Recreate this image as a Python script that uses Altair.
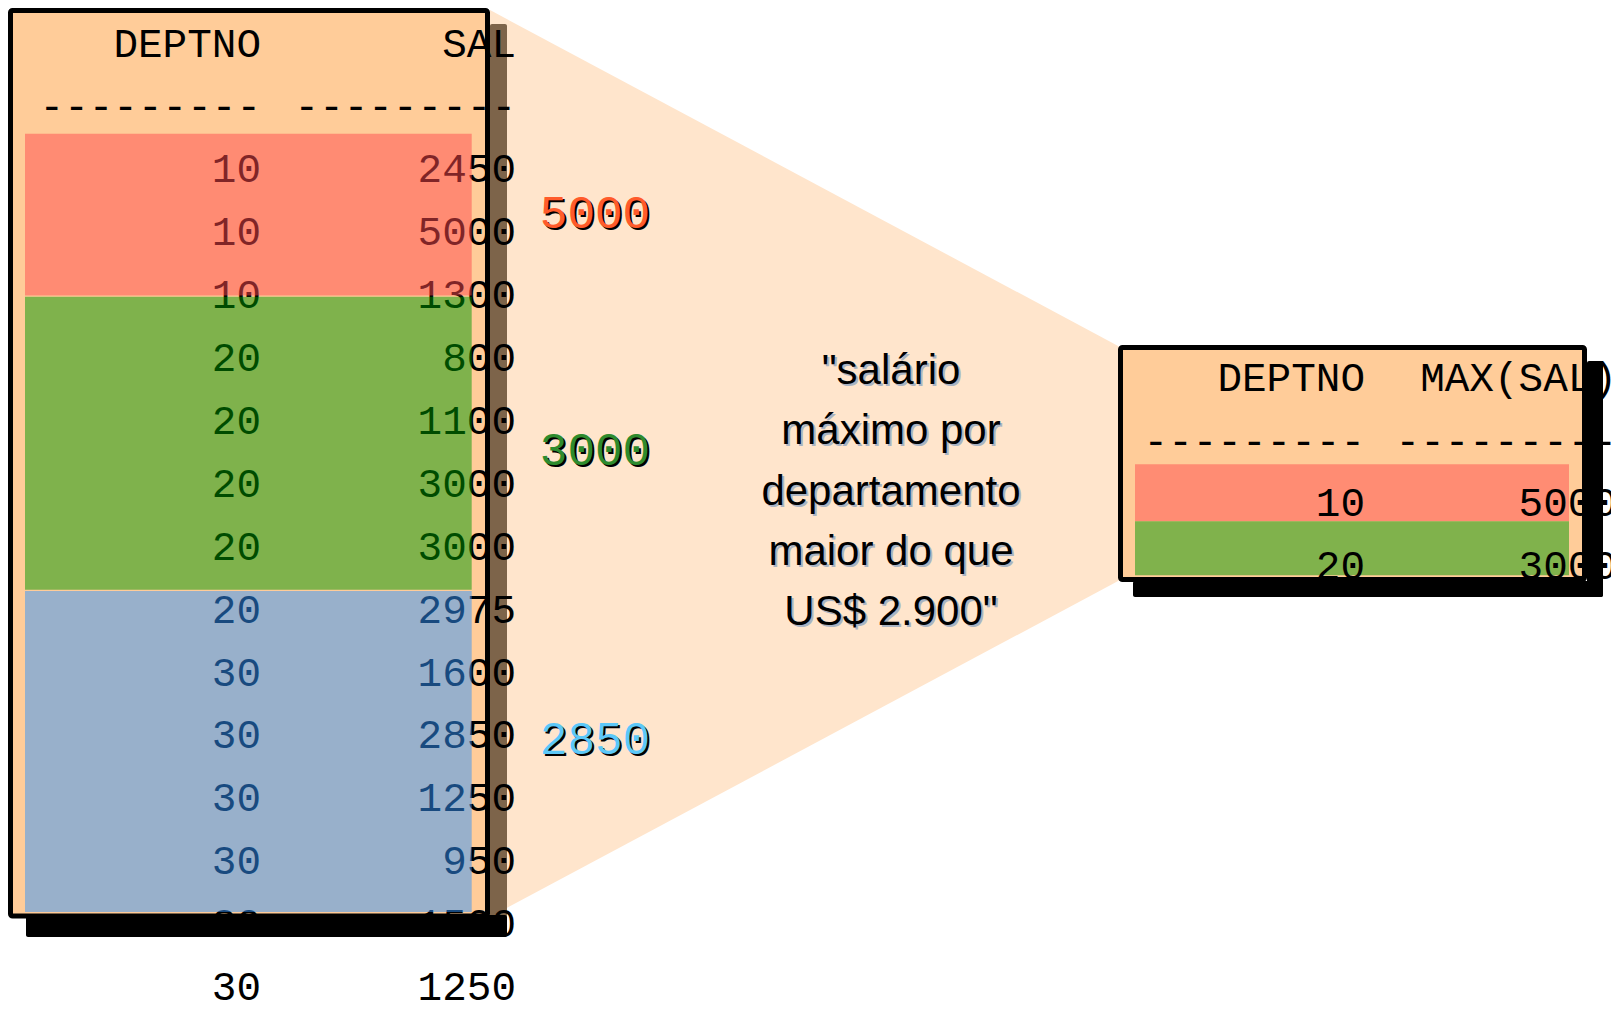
import altair as alt
import pandas as pd

# ---------------- data ----------------
EMP_HEADERS = ["DEPTNO", "SAL"]
EMP_DEPTNO = [10, 10, 10, 20, 20, 20, 20, 20, 30, 30, 30, 30, 30, 30]
EMP_SAL = [2450, 5000, 1300, 800, 1100, 3000, 3000, 2975, 1600, 2850, 1250, 950, 1500, 1250]

RES_HEADERS = ["DEPTNO", "MAX(SAL)"]
RES_DEPTNO = [10, 20]
RES_MAXSAL = [5000, 3000]

GROUP_MAX = ["5000", "3000", "2850"]
GROUP_MAX_LINE = [2.69, 6.46, 11.05]          # text line (in EMP rows) where each max is shown
GROUP_MAX_COLORS = ["#FF5B2B", "#2E8B2E", "#5CC8F8"]

# highlighted bands over the EMP table (in EMP text-line units)
BAND_FROM = [1.42, 4.01, 8.69]
BAND_TO = [3.99, 8.67, 13.79]
BAND_COLORS = ["#FF4A4D", "#009800", "#3194FD"]   # drawn at 50% over the peach table

# highlighted bands of the result table (in result text-line units)
RES_BAND_FROM = [1.36, 2.27]
RES_BAND_TO = [2.27, 3.13]
RES_BAND_COLORS = ["#FF8C73", "#80B24C"]

CAPTION = ['"salário', 'máximo por', 'departamento', 'maior do que', 'US$ 2.900"']
DASHES = "-" * 9

# ---------------- layout ----------------
W, H = 1603, 995
XS = alt.Scale(domain=[8, 8 + W], nice=False, zero=False)
YS = alt.Scale(domain=[8, 8 + H], nice=False, zero=False, reverse=True)

L_Y0, L_LINE = 44.5, 62.9           # EMP table: first line centre, line pitch
L_COLS = [261, 516]                  # right edges of the two EMP columns
R_Y0, R_LINE = 379.0, 62.7          # result table
R_COLS = [1365, 1617]

MONO = "Liberation Mono"
SANS = "Liberation Sans"


def enc_rect():
    return dict(
        x=alt.X("x:Q", scale=XS, axis=None),
        x2=alt.X2("x2:Q"),
        y=alt.Y("y:Q", scale=YS, axis=None),
        y2=alt.Y2("y2:Q"),
    )


def enc_pt():
    return dict(
        x=alt.X("x:Q", scale=XS, axis=None),
        y=alt.Y("y:Q", scale=YS, axis=None),
    )


# wedge connecting the two tables
wedge_df = pd.DataFrame({"x": [490, 1120], "y": [10, 347], "y2": [917, 580]})
wedge = alt.Chart(wedge_df).mark_area(color="#FFE5CC", interpolate="linear").encode(
    x=alt.X("x:Q", scale=XS, axis=None),
    y=alt.Y("y:Q", scale=YS, axis=None),
    y2=alt.Y2("y2:Q"),
)

# drop shadows of the two boxes
shadow_df = pd.DataFrame({
    "x": [490, 26, 1587, 1133],
    "x2": [507, 507, 1603, 1603],
    "y": [24, 915, 361, 581],
    "y2": [917, 937, 597, 597],
    "c": ["#7D644A", "#000000", "#000000", "#000000"],
})
shadows = alt.Chart(shadow_df).mark_rect(cornerRadius=2).encode(
    color=alt.Color("c:N", scale=None), **enc_rect()
)

# the two table boxes
box_df = pd.DataFrame({
    "x": [10.5, 1120.5], "x2": [487.5, 1584.5],
    "y": [10.5, 347.5], "y2": [916.0, 579.5],
})
boxes = alt.Chart(box_df).mark_rect(
    fill="#FFCC99", stroke="black", strokeWidth=5, strokeJoin="round", cornerRadius=2
).encode(**enc_rect())

# bands of the result table (under its text)
res_band_df = pd.DataFrame({
    "x": [1135, 1135], "x2": [1569, 1569],
    "from": RES_BAND_FROM, "to": RES_BAND_TO, "c": RES_BAND_COLORS,
})
res_bands = alt.Chart(res_band_df).transform_calculate(
    y=f"{R_Y0} + datum.from * {R_LINE}",
    y2=f"{R_Y0} + datum.to * {R_LINE}",
).mark_rect().encode(color=alt.Color("c:N", scale=None), **enc_rect())

# EMP table text
rows = []
for c, h in enumerate(EMP_HEADERS):
    rows.append({"line": 0, "col": c, "label": h})
for c in range(2):
    rows.append({"line": 1, "col": c, "label": DASHES})
for i, (d, s) in enumerate(zip(EMP_DEPTNO, EMP_SAL)):
    rows.append({"line": i + 2, "col": 0, "label": str(d)})
    rows.append({"line": i + 2, "col": 1, "label": str(s)})
emp_df = pd.DataFrame(rows)
emp_text = alt.Chart(emp_df).transform_calculate(
    y=f"{L_Y0} + datum.line * {L_LINE}",
    x=f"datum.col == 0 ? {L_COLS[0]} : {L_COLS[1]}",
).mark_text(align="right", baseline="middle", font=MONO, fontSize=41, color="black").encode(
    text="label:N", **enc_pt()
)

# result table text
rrows = []
for c, h in enumerate(RES_HEADERS):
    rrows.append({"line": 0, "col": c, "label": h})
for c in range(2):
    rrows.append({"line": 1, "col": c, "label": DASHES})
for i, (d, s) in enumerate(zip(RES_DEPTNO, RES_MAXSAL)):
    rrows.append({"line": i + 2, "col": 0, "label": str(d)})
    rrows.append({"line": i + 2, "col": 1, "label": str(s)})
res_df = pd.DataFrame(rrows)
res_text = alt.Chart(res_df).transform_calculate(
    y=f"{R_Y0} + datum.line * {R_LINE}",
    x=f"datum.col == 0 ? {R_COLS[0]} : {R_COLS[1]}",
).mark_text(align="right", baseline="middle", font=MONO, fontSize=41, color="black").encode(
    text="label:N", **enc_pt()
)

# translucent group bands over the EMP table (tint the text beneath)
band_df = pd.DataFrame({
    "from": BAND_FROM, "to": BAND_TO, "c": BAND_COLORS,
    "x": [25] * 3, "x2": [471.7] * 3,
})
emp_bands = alt.Chart(band_df).transform_calculate(
    y=f"{L_Y0} + datum.from * {L_LINE}",
    y2=f"{L_Y0} + datum.to * {L_LINE}",
).mark_rect(opacity=0.5).encode(color=alt.Color("c:N", scale=None), **enc_rect())

# group maxima with a black drop shadow
max_df = pd.DataFrame({"label": GROUP_MAX, "line": GROUP_MAX_LINE, "c": GROUP_MAX_COLORS, "x": [595] * 3})
max_base = alt.Chart(max_df).transform_calculate(y=f"{L_Y0} + datum.line * {L_LINE}")
max_shadow = max_base.mark_text(
    align="center", baseline="middle", font=MONO, fontSize=46,
    color="black", dx=2, dy=2,
).encode(text="label:N", **enc_pt())
max_text = max_base.mark_text(
    align="center", baseline="middle", font=MONO, fontSize=46,
).encode(text="label:N", color=alt.Color("c:N", scale=None), **enc_pt())

# caption in the wedge
cap_df = pd.DataFrame({"label": CAPTION, "i": list(range(len(CAPTION))), "x": [891] * len(CAPTION)})
cap_base = alt.Chart(cap_df).transform_calculate(y="384 + datum.i * 60.3")
cap_shadow = cap_base.mark_text(
    align="center", baseline="alphabetic", font=SANS, fontSize=42, color="#A9B3C2", dx=2, dy=2
).encode(text="label:N", **enc_pt())
cap_text = cap_base.mark_text(
    align="center", baseline="alphabetic", font=SANS, fontSize=42, color="black"
).encode(text="label:N", **enc_pt())

chart = alt.layer(
    wedge, shadows, boxes, res_bands, emp_text, res_text, emp_bands,
    max_shadow, max_text, cap_shadow, cap_text,
).properties(
    width=W, height=H, padding=0,
    autosize=alt.AutoSizeParams(type="none"),
    background="white",
).configure_view(stroke=None)

chart.save("out.html", embed_options={"renderer": "svg", "actions": False})
